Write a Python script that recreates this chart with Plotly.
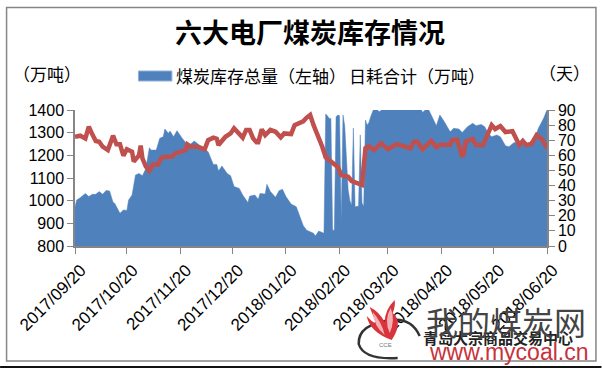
import plotly.graph_objects as go
import pandas as pd

START = "2017-09-20"
stock_days = [0,1,3,6,8,10,12,14,16,18,20,22,23,26,28,30,31,33,35,37,39,41,43,44,47,49,51,52,54,55,57,59,62,64,
 66,69,72,77,80,82,83,85,88,90,92,95,97,100,101,104,106,107,110,111,113,116,118,120,122,125,128,130,132,
 134,136,138,139,141,144,145,146,147,148,149,150,151,152,153,154,155,156,157,158,159,160,161,162,163,164,165,166,167,168,169,170,171,172,
 173,175,176,179,200,201,204,207,209,211,213,217,219,222,224,227,230,232,235,237,239,241,244,246,249,251,254,257,261,264,266,268,271,273]
stock_values = [973,1003,1013,1032,1018,1028,1028,1040,1028,1045,1043,993,988,944,959,957,1003,1025,1113,1120,1110,1142,1234,1223,1223,1275,1282,1316,1297,1307,1282,1309,1275,1257,
 1245,1263,1245,1216,1160,1160,1131,1153,1120,1110,1062,1054,1025,992,1020,1025,1006,1032,1029,1072,1040,1015,1044,1050,1018,985,973,929,890,
 870,862,856,844,866,856,1382,1375,1363,1363,870,870,1370,1378,1375,915,1378,1330,1180,1047,1000,980,1320,972,975,975,1290,990,975,1356,1333,1345,1370,1395,
 1410,1400,1392,1410,1410,1389,1410,1363,1330,1378,1356,1304,1319,1316,1301,1326,1341,1331,1336,1326,1297,1282,1290,1282,1242,1238,1257,1253,1245,1264,1275,1319,1363,1400,1400]

burn_days = [0,3,6,8,10,12,14,16,19,22,24,26,28,30,33,34,37,38,39,41,43,45,48,50,53,56,58,61,64,65,67,71,75,77,80,82,83,87,90,92,94,97,99,101,103,105,106,108,110,113,116,119,121,125,127,130,
 132,134,136,138,140,143,145,149,152,154,158,160,166,168,170,173,177,181,186,194,196,198,201,206,209,211,217,218,221,222,224,225,226,230,232,236,241,243,246,249,253,257,259,261,264,267,270,273]
burn_values = [72.3,73,71.2,79,73.9,69.5,69,65.7,63.5,73,67.3,67.3,59.8,64,62.4,55.8,60,66.4,58,52.5,49.8,54,54,58.4,59,59,61.3,62.4,63.5,67.3,65.7,65.7,64,70,71.7,71,66.8,72.3,74.5,77.9,75,71.7,76.8,76.8,71.2,68.6,68.6,77.2,73.4,76.8,75.6,71.9,74.5,74.1,80,81.8,
 82.5,85,86.7,80,74.6,65.7,58.7,54.6,52.3,47,45.8,43,40.4,64.7,66,63.5,68,64,67.4,64.7,69,69,64,69.6,65.5,67,67,70,70.5,66.8,59,62,69,70.8,66.8,66.8,80,77.4,79.4,75.4,76,66.8,69.5,66.8,67.5,73.4,70.8,64.8]

tick_dates = ["2017-09-20","2017-10-20","2017-11-20","2017-12-20","2018-01-20","2018-02-20","2018-03-20","2018-04-20","2018-05-20","2018-06-20"]

TITLE = "六大电厂煤炭库存情况"
LEGEND_A = "煤炭库存总量（左轴）"
LEGEND_B = "日耗合计（万吨）"
UNIT_L = "（万吨）"
UNIT_R = "（天）"

W, H = 602, 369
L, R, T, B = 75, 547.5, 110, 246
FONT = "Liberation Sans, Noto Sans CJK SC, sans-serif"
AXIS = "#868686"

def px(x): return (x - L) / (R - L)
def py(y): return (B - y) / (B - T)

def dates(days):
    return pd.Timestamp(START) + pd.to_timedelta(days, unit="D")

fig = go.Figure()
fig.add_trace(go.Scatter(x=dates(stock_days), y=stock_values, name=LEGEND_A, mode="lines",
                         line=dict(color="#4f81bd", width=0.5), fill="tozeroy", fillcolor="#4f81bd"))
fig.add_trace(go.Scatter(x=dates(burn_days), y=burn_values, name=LEGEND_B, mode="lines", yaxis="y2",
                         line=dict(color="#c0504d", width=4.5)))

def path(points, close=True):
    s = ""
    for i, p in enumerate(points):
        if len(p) == 2:
            s += ("M" if i == 0 else "L") + f"{px(p[0]):.4f},{py(p[1]):.4f} "
        else:
            s += f"Q{px(p[0]):.4f},{py(p[1]):.4f} {px(p[2]):.4f},{py(p[3]):.4f} "
    return s + ("Z" if close else "")

shapes = [
    dict(type="rect", xref="paper", yref="paper", x0=px(6.5), x1=px(596.5), y0=py(361), y1=py(7.5),
         line=dict(color="#868686", width=1.5), layer="below"),
    dict(type="line", xref="paper", yref="paper", x0=px(0), x1=px(602), y0=py(367), y1=py(367),
         line=dict(color="#111111", width=2)),
    dict(type="rect", xref="paper", yref="paper", x0=px(138.5), x1=px(172), y0=py(81), y1=py(71),
         fillcolor="#4f81bd", line=dict(color="#8eb0d8", width=1)),
    # watermark logo
    dict(type="path", xref="paper", yref="paper", line=dict(color="#333333", width=2.5),
         path=path([(420,336),(412,318,392,320),(358,324,359,344),(364,360,398,358)], False)),
    dict(type="path", xref="paper", yref="paper", fillcolor="#d9343c", line=dict(width=0),
         path=path([(392,340),(404,322,393,313),(396,306,395,300),(385,310,385,322),(380,312,370,307),(374,318,378,325),(372,322,367,316),(370,332,392,340)])),
    dict(type="path", xref="paper", yref="paper", fillcolor="#f4b0b3", line=dict(width=0),
         path=path([(390,333),(396,320,391,308),(384,320,390,333)])),
    dict(type="path", xref="paper", yref="paper", fillcolor="#f4b0b3", line=dict(width=0),
         path=path([(385,335),(382,322,373,312),(374,326,385,335)])),
]

def note(text, x, y, size, color="#000000", anchor="left", bold=False, opacity=1):
    return dict(text=f"<b>{text}</b>" if bold else text, xref="paper", yref="paper", x=px(x), y=py(y),
                xanchor=anchor, yanchor="middle", showarrow=False, opacity=opacity, borderpad=0,
                font=dict(family=FONT, size=size, color=color))

annotations = [
    note(TITLE, 310, 34, 27, anchor="center", bold=True),
    note(UNIT_L, 47, 75, 17, anchor="center"),
    note(UNIT_R, 565, 74, 17, anchor="center"),
    note(LEGEND_A, 175, 77, 17),
    note(LEGEND_B, 348, 77, 17),
    note("青岛大宗商品交易中心", 422, 338, 15, color="#222222", bold=True),
    note("CCE", 378, 345, 6, color="#777777"),
    note("我的煤炭网", 425, 324, 32, color="#444444"),
    note("www.mycoal.cn", 428, 352, 23, color="#c8323c"),
]

tickfont = dict(family=FONT, size=16, color="#000000")
fig.update_layout(
    width=W, height=H, autosize=False, showlegend=False,
    margin=dict(l=L, r=W - R, t=T, b=H - B, pad=0),
    paper_bgcolor="white", plot_bgcolor="white",
    font=dict(family=FONT),
    xaxis=dict(type="date", range=[START, "2018-06-20"], tickmode="array", tickvals=tick_dates,
               ticktext=[d.replace("-", "/") for d in tick_dates], tickangle=-45, showgrid=False,
               ticks="outside", ticklen=6, tickcolor=AXIS, linecolor=AXIS, linewidth=1.5,
               showline=True, tickfont=dict(family=FONT, size=17, color="#000000"), ticklabelshift=6,
               ticklabelstandoff=0, zeroline=False),
    yaxis=dict(range=[800, 1400], dtick=100, showgrid=False, ticks="outside", ticklen=6,
               tickcolor=AXIS, linecolor=AXIS, linewidth=1.5, showline=True, tickfont=tickfont, zeroline=False),
    yaxis2=dict(range=[0, 90], dtick=10, overlaying="y", side="right", showgrid=False, ticks="outside",
                ticklen=6, tickcolor=AXIS, linecolor=AXIS, linewidth=1.5, showline=True, tickfont=tickfont, zeroline=False),
    shapes=shapes, annotations=annotations,
)
fig.write_html("out.html", config={"displayModeBar": False},
               post_script="document.body.style.margin='0';")
